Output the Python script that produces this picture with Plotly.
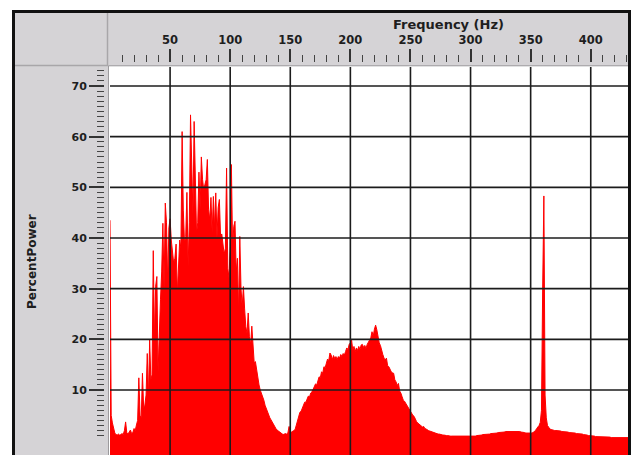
import plotly.graph_objects as go

# ---------------- data ----------------
freq_hz = list(range(0, 432))

percent_power = [
    43.5, 5.0, 3.5, 2.2, 1.5, 1.2, 1.1, 1.3, 1.1, 1.2,
    1.4, 1.2, 2.0, 3.7, 1.5, 1.3, 1.6, 2.1, 1.4, 1.6,
    2.4, 2.0, 3.1, 4.0, 12.4, 5.0, 4.5, 13.3, 6.5, 7.0,
    9.0, 17.2, 8.5, 19.9, 12.0, 13.0, 37.5, 20.0, 30.5, 32.4,
    13.5, 22.0, 27.8, 33.3, 42.9, 30.0, 46.9, 43.0, 31.0, 42.0,
    43.8, 39.6, 36.9, 35.0, 36.0, 38.8, 29.0, 36.5, 39.6, 38.0,
    61.0, 45.5, 39.0, 40.3, 49.0, 34.4, 43.0, 64.3, 50.9, 44.7,
    63.0, 53.0, 40.9, 43.0, 53.0, 45.6, 56.0, 51.6, 49.5, 50.6,
    51.5, 55.5, 45.7, 43.6, 48.0, 41.0, 48.2, 42.0, 48.9, 40.0,
    46.0, 47.6, 40.3, 40.8, 38.0, 36.8, 38.0, 53.8, 34.0, 32.2,
    38.3, 54.5, 38.0, 42.3, 43.3, 33.3, 36.0, 25.0, 40.3, 30.0,
    26.5, 30.4, 26.0, 22.5, 21.2, 25.2, 20.5, 19.0, 22.6, 17.9,
    15.3, 15.6, 13.9, 12.7, 11.0, 10.0, 9.4, 8.5, 8.0, 7.0,
    6.3, 5.8, 5.0, 4.5, 4.1, 3.6, 3.1, 2.8, 2.4, 2.1,
    1.9, 1.7, 1.5, 1.3, 1.2, 1.3, 1.4, 1.3, 1.5, 2.8,
    1.6, 1.7, 1.8, 2.0, 2.2, 3.0, 3.8, 4.6, 5.6, 5.8,
    6.4, 6.8, 7.6, 7.6, 8.4, 8.8, 8.6, 9.4, 9.6, 10.2,
    10.6, 11.2, 11.0, 12.0, 12.6, 12.4, 13.6, 13.3, 14.6, 14.4,
    15.5, 16.1, 15.8, 17.3, 16.9, 16.0, 16.8, 16.2, 16.6, 16.0,
    16.6, 16.3, 17.0, 16.6, 17.2, 16.9, 17.6, 18.3, 18.0, 19.0,
    19.3, 19.9, 17.9, 18.6, 17.6, 18.3, 17.8, 18.6, 18.0, 18.9,
    19.0, 18.4, 18.8, 18.2, 19.0, 19.5, 19.9, 20.3, 21.5, 20.6,
    22.0, 22.8, 21.9, 20.5, 19.3, 18.8, 17.6, 17.0, 16.3, 15.9,
    16.3, 14.8, 14.6, 14.0, 13.6, 13.4, 13.3, 12.0, 11.6, 10.9,
    11.3, 9.8, 9.4, 8.7, 8.0, 7.8, 7.4, 6.8, 6.5, 6.0,
    5.6, 5.4, 5.0, 4.8, 4.1, 3.8, 3.5, 3.3, 3.1, 2.9,
    2.7, 2.8, 2.4, 2.3, 2.1, 2.0, 1.9, 1.8, 1.8, 1.7,
    1.6, 1.5, 1.4, 1.3, 1.3, 1.2, 1.2, 1.1, 1.1, 1.0,
    1.0, 1.0, 0.9, 0.9, 0.9, 0.9, 0.8, 0.8, 0.9, 0.8,
    0.8, 0.8, 0.8, 0.9, 0.8, 0.8, 0.8, 0.8, 0.8, 0.8,
    0.8, 0.8, 0.9, 0.9, 0.9, 1.0, 1.0, 1.1, 1.1, 1.1,
    1.2, 1.2, 1.2, 1.3, 1.3, 1.3, 1.3, 1.4, 1.4, 1.4,
    1.5, 1.5, 1.5, 1.6, 1.6, 1.6, 1.7, 1.7, 1.7, 1.8,
    1.8, 1.8, 1.8, 1.8, 1.9, 1.8, 1.8, 1.8, 1.9, 1.8,
    1.8, 1.8, 1.7, 1.7, 1.6, 1.6, 1.5, 1.5, 1.4, 1.4,
    1.5, 1.5, 1.6, 1.8, 2.0, 2.4, 2.7, 3.0, 3.6, 6.0,
    30.0, 48.3, 9.0, 4.5, 3.0, 2.6, 2.3, 2.2, 2.1, 2.1,
    2.0, 2.0, 2.0, 1.9, 1.9, 1.9, 1.8, 1.8, 1.8, 1.7,
    1.7, 1.7, 1.6, 1.6, 1.6, 1.5, 1.5, 1.5, 1.4, 1.4,
    1.4, 1.3, 1.3, 1.3, 1.2, 1.2, 1.1, 1.1, 1.0, 1.0,
    0.9, 0.9, 0.9, 0.9, 0.8, 0.8, 0.8, 0.8, 0.8, 0.7,
    0.7, 0.7, 0.7, 0.7, 0.7, 0.7, 0.7, 0.6, 0.6, 0.6,
    0.6, 0.6, 0.6, 0.6, 0.6, 0.6, 0.6, 0.6, 0.6, 0.6,
    0.6, 0.6,
]

x_tick_vals = [50, 100, 150, 200, 250, 300, 350, 400]
x_tick_text = ["50", "100", "150", "200", "250", "300", "350", "400"]
x_minor_vals = list(range(10, 431, 10))
y_tick_vals = [10, 20, 30, 40, 50, 60, 70]
y_tick_text = ["10", "20", "30", "40", "50", "60", "70"]
y_minor_vals = list(range(1, 74))
x_title = "Frequency (Hz)"
y_title = "PercentPower"

# ---------------- layout geometry (pixels) ----------------
W, H = 632, 455
PL, PR, PT, PB = 110, 628, 67, 455
X_RANGE = [0, 431]
Y_RANGE = [-2.83, 73.75]

FRAME_GRAY = "#d5d3d6"
TXT = "#1e1e1e"
FONT = "DejaVu Sans"


def fx(p):
    return p / W


def fy(p):
    return 1 - p / H


fig = go.Figure()

# invisible floor so the fill reaches the bottom edge of the plot
fig.add_trace(go.Scatter(
    x=[X_RANGE[0], X_RANGE[1]], y=[Y_RANGE[0] - 2, Y_RANGE[0] - 2],
    mode="lines", line=dict(width=0, color="rgba(0,0,0,0)"),
    hoverinfo="skip", showlegend=False))

fig.add_trace(go.Scatter(
    x=freq_hz, y=percent_power, mode="lines",
    line=dict(color="#ff0000", width=1),
    fill="tonexty", fillcolor="#ff0000",
    showlegend=False, name="PercentPower"))

shapes = []
# gray frame bands (outside plot area)
shapes.append(dict(type="rect", xref="paper", yref="paper",
                   x0=fx(13), x1=fx(630), y0=fy(66), y1=fy(11),
                   fillcolor=FRAME_GRAY, line=dict(width=0), layer="below"))
shapes.append(dict(type="rect", xref="paper", yref="paper",
                   x0=fx(13), x1=fx(109), y0=fy(470), y1=fy(66),
                   fillcolor=FRAME_GRAY, line=dict(width=0), layer="below"))
shapes.append(dict(type="rect", xref="paper", yref="paper",
                   x0=fx(628), x1=fx(630), y0=fy(470), y1=fy(66),
                   fillcolor=FRAME_GRAY, line=dict(width=0), layer="below"))
# separators
shapes.append(dict(type="line", xref="paper", yref="paper",
                   x0=fx(107.5), x1=fx(107.5), y0=fy(66), y1=fy(11),
                   line=dict(color="#a8a6a9", width=1.5), layer="above"))
shapes.append(dict(type="line", xref="paper", yref="paper",
                   x0=fx(13), x1=fx(108), y0=fy(65.5), y1=fy(65.5),
                   line=dict(color="#a8a6a9", width=1.5), layer="above"))
# plot area border
shapes.append(dict(type="rect", xref="paper", yref="paper",
                   x0=fx(108.5), x1=fx(628.5), y0=fy(470), y1=fy(65.8),
                   line=dict(color="#9c9a9d", width=1), layer="above"))
# grid lines on top of the fill
for v in x_tick_vals:
    shapes.append(dict(type="line", xref="x", yref="paper",
                       x0=v, x1=v, y0=fy(PB + 5), y1=fy(PT),
                       line=dict(color="#1c1c1c", width=1.6), layer="above"))
for v in y_tick_vals:
    shapes.append(dict(type="line", xref="paper", yref="y",
                       x0=fx(PL), x1=fx(PR), y0=v, y1=v,
                       line=dict(color="#1c1c1c", width=1.6), layer="above"))
# outer black border
shapes.append(dict(type="rect", xref="paper", yref="paper",
                   x0=fx(13.5), x1=fx(629.5), y0=fy(480), y1=fy(11.5),
                   line=dict(color="#111111", width=3), layer="above"))

annotations = [
    dict(text=x_title, xref="paper", yref="paper", x=fx(448), y=fy(24),
         xanchor="center", yanchor="middle", showarrow=False,
         font=dict(family=FONT, size=13, color=TXT, weight="bold")),
    dict(text=y_title, xref="paper", yref="paper", x=fx(32), y=fy(262),
         xanchor="center", yanchor="middle", showarrow=False, textangle=-90,
         font=dict(family=FONT, size=12, color=TXT, weight="bold")),
]

fig.update_layout(
    width=W, height=H,
    margin=dict(l=0, r=0, t=0, b=0, pad=0),
    paper_bgcolor="white", plot_bgcolor="white",
    showlegend=False,
    shapes=shapes, annotations=annotations,
    xaxis=dict(
        domain=[fx(PL), fx(PR)], range=X_RANGE, side="top",
        anchor="free", position=fy(62),
        tickmode="array", tickvals=x_tick_vals, ticktext=x_tick_text,
        ticks="outside", ticklen=13, tickwidth=1.5, tickcolor="#333333",
        tickfont=dict(family=FONT, size=11.5, color=TXT, weight="bold"),
        minor=dict(tickmode="array", tickvals=x_minor_vals, ticks="outside",
                   ticklen=7, tickwidth=1, tickcolor="#444444", showgrid=False),
        showgrid=False, zeroline=False, showline=False, fixedrange=True,
    ),
    yaxis=dict(
        domain=[0, fy(PT)], range=Y_RANGE,
        anchor="free", position=fx(104),
        tickmode="array", tickvals=y_tick_vals, ticktext=y_tick_text,
        ticks="outside", ticklen=15, tickwidth=1.5, tickcolor="#333333",
        tickfont=dict(family=FONT, size=11, color=TXT, weight="bold"),
        minor=dict(tickmode="array", tickvals=y_minor_vals, ticks="outside",
                   ticklen=7, tickwidth=1, tickcolor="#444444", showgrid=False),
        showgrid=False, zeroline=False, showline=False, fixedrange=True,
    ),
)

fig.write_html(
    "out.html",
    config={"displayModeBar": False},
    post_script="document.body.style.margin='0px';document.body.style.overflow='hidden';",
)
